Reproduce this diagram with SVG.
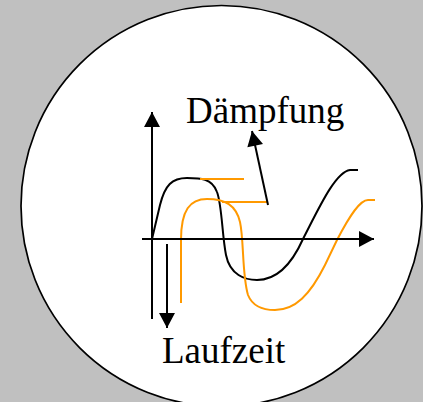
<svg xmlns="http://www.w3.org/2000/svg" width="423" height="402" viewBox="0 0 423 402">
<style>
.ax{stroke:#000;stroke-width:2;fill:none}
.bk{stroke:#000;stroke-width:2;fill:none}
.or{stroke:#ff9900;stroke-width:2;fill:none}
.lbl{font-family:"Liberation Serif","Times New Roman",serif;font-size:37px;fill:#000}
</style>
<defs>
<marker id="ah" markerUnits="userSpaceOnUse" markerWidth="16" markerHeight="16" viewBox="0 0 15 16" refX="15" refY="8" orient="auto">
<path d="M0,0 L15,8 L0,16 z" fill="#000"/>
</marker>
</defs>
<rect x="0" y="0" width="423" height="402" fill="#c0c0c0"/>
<g id="lens">
<circle cx="221.5" cy="206" r="200.5" fill="#fff" stroke="#000" stroke-width="1.7"/>
</g>
<g id="curves">
<path class="bk" d="M152,239 L160,205 C165,185 172,178 187,178 C200,178 212,178 217,192 C222,205 222,235 226,255 C230,275 245,280 257,280 C275,280 290,268 303,239 C318,210 335,172 350,170 L358,170"/>
<path class="or" d="M181,303 L181,240 C181,210 190,199 207,199 C225,199 236,205 240,222 C244,240 242,275 248,295 C252,305 262,310 275,310 C295,310 310,295 325,265 L337,240 C350,215 360,200 368,200 L375,200"/>
<line class="or" x1="200" y1="179" x2="244" y2="179"/>
<line class="or" x1="222" y1="202" x2="267" y2="202"/>
</g>
<g id="connectors">
<line class="ax" x1="152" y1="319" x2="152" y2="112" marker-end="url(#ah)"/>
<line class="ax" x1="142" y1="239" x2="374" y2="239" marker-end="url(#ah)"/>
<line class="ax" x1="167" y1="244" x2="167" y2="328" marker-end="url(#ah)"/>
<line class="ax" x1="268" y1="205" x2="252" y2="131" marker-end="url(#ah)"/>
</g>
<g id="label-daempfung">
<text class="lbl" x="186" y="123">Dämpfung</text>
</g>
<g id="label-laufzeit">
<text class="lbl" x="162" y="363">Laufzeit</text>
</g>
</svg>
